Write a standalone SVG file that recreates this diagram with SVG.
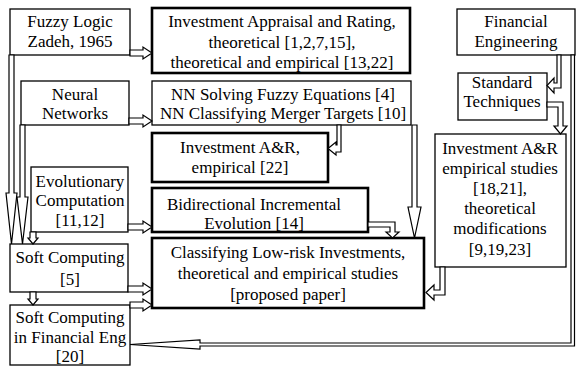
<svg xmlns="http://www.w3.org/2000/svg" width="576" height="366" viewBox="0 0 576 366">
<style>
.b{fill:#fff;stroke:#000;stroke-width:1.3}
.t{fill:#fff;stroke:#000;stroke-width:2.6}
text{font-family:"Liberation Serif","Times New Roman",serif;font-size:17px;fill:#000;text-anchor:middle}
.a{fill:#fff;stroke:#000;stroke-width:1.2;stroke-linejoin:miter}
</style>
<rect width="576" height="366" fill="#fff"/>
<g id="fuzzy"><rect class="b" x="10" y="9" width="120" height="46"/><text x="70" y="27">Fuzzy Logic</text><text x="70" y="47">Zadeh, 1965</text></g>
<g id="appraisal"><rect class="t" x="152" y="8" width="258" height="65"/><text x="282" y="27">Investment Appraisal and Rating,</text><text x="282" y="48">theoretical [1,2,7,15],</text><text x="282" y="68">theoretical and empirical [13,22]</text></g>
<g id="neural"><rect class="b" x="21" y="81" width="108" height="44"/><text x="75" y="100">Neural</text><text x="75" y="119">Networks</text></g>
<g id="nnsolving"><rect class="b" x="152" y="81" width="259" height="44"/><text x="283" y="100">NN Solving Fuzzy Equations [4]</text><text x="283" y="119">NN Classifying Merger Targets [10]</text></g>
<g id="iar22"><rect class="t" x="152" y="133" width="176" height="49"/><text x="240" y="153">Investment A&amp;R,</text><text x="240" y="173">empirical [22]</text></g>
<g id="evolutionary"><rect class="b" x="31" y="167" width="97" height="65"/><text x="80" y="187">Evolutionary</text><text x="80" y="206">Computation</text><text x="80" y="226">[11,12]</text></g>
<g id="bidirectional"><rect class="t" x="152" y="188" width="216" height="44"/><text x="254" y="210">Bidirectional Incremental</text><text x="254" y="229">Evolution [14]</text></g>
<g id="classifying"><rect class="t" x="152" y="238" width="272" height="70"/><text x="288" y="258">Classifying Low-risk Investments,</text><text x="288" y="279">theoretical and empirical studies</text><text x="288" y="300">[proposed paper]</text></g>
<g id="softcomputing"><rect class="b" x="10" y="244" width="118" height="48"/><text x="70" y="263">Soft Computing</text><text x="70" y="285">[5]</text></g>
<g id="scfe"><rect class="b" x="10" y="305" width="120" height="60"/><text x="70" y="323">Soft Computing</text><text x="70" y="343">in Financial Eng</text><text x="70" y="362">[20]</text></g>
<g id="fineng"><rect class="b" x="457" y="9" width="118" height="46"/><text x="516" y="27">Financial</text><text x="516" y="47">Engineering</text></g>
<g id="standard"><rect class="b" x="458" y="73" width="89" height="47"/><text x="502" y="88">Standard</text><text x="502" y="107">Techniques</text></g>
<g id="iarstudies"><rect class="b" x="435" y="134" width="131" height="133"/><text x="500" y="154">Investment A&amp;R</text><text x="500" y="174">empirical studies</text><text x="500" y="194">[18,21],</text><text x="500" y="214">theoretical</text><text x="500" y="234">modifications</text><text x="500" y="255">[9,19,23]</text></g>
<g id="connectors">
<polygon class="a" points="130,50 143,50 143,47 152,53 143,59 143,56 130,56"/>
<polygon class="a" points="129,118 143,118 143,115 152,121 143,127 143,124 129,124"/>
<polygon class="a" points="128,224 143,224 143,221 152,227 143,233 143,230 128,230"/>
<polygon class="a" points="128,286 143,286 143,283 152,289 143,295 143,292 128,292"/>
<polygon class="a" points="130,302 143,302 143,299 152,305 143,311 143,308 130,308"/>
<polygon class="a" points="9,55 9,193 6,193 11.5,244 17,193 14,193 14,55"/>
<polygon class="a" points="20,125 20,197 17,197 22.5,244 28,197 25,197 25,125"/>
<polygon class="a" points="30,232 30,238 28,238 33,244 38,238 36,238 36,232"/>
<polygon class="a" points="30,292 30,299 28,299 33,305 38,299 36,299 36,292"/>
<polygon class="a" points="337,125 337,145 336,145 336,142 328,148.5 336,155 336,152 341,152 341,125"/>
<polygon class="a" points="412,125 412,207 408,207 414.5,238 421,207 417,207 417,125"/>
<polygon class="a" points="368,222 395,222 395,232 399,232 392.5,238 386,232 390,232 390,227 368,227"/>
<polygon class="a" points="561,55 561,88 554,88 554,93 547,85.5 554,78 554,83 557,83 557,55"/>
<polygon class="a" points="547,102 563,102 563,126 567,126 560.5,134 554,126 558,126 558,107 547,107"/>
<polygon class="a" points="440,267 440,290 434,290 434,285 426,292.5 434,300 434,295 445,295 445,267"/>
<polygon class="a" points="571,55 571,343 200,343 200,340 130,344.5 200,349 200,346 574.5,346 574.5,55"/>
</g>
</svg>
